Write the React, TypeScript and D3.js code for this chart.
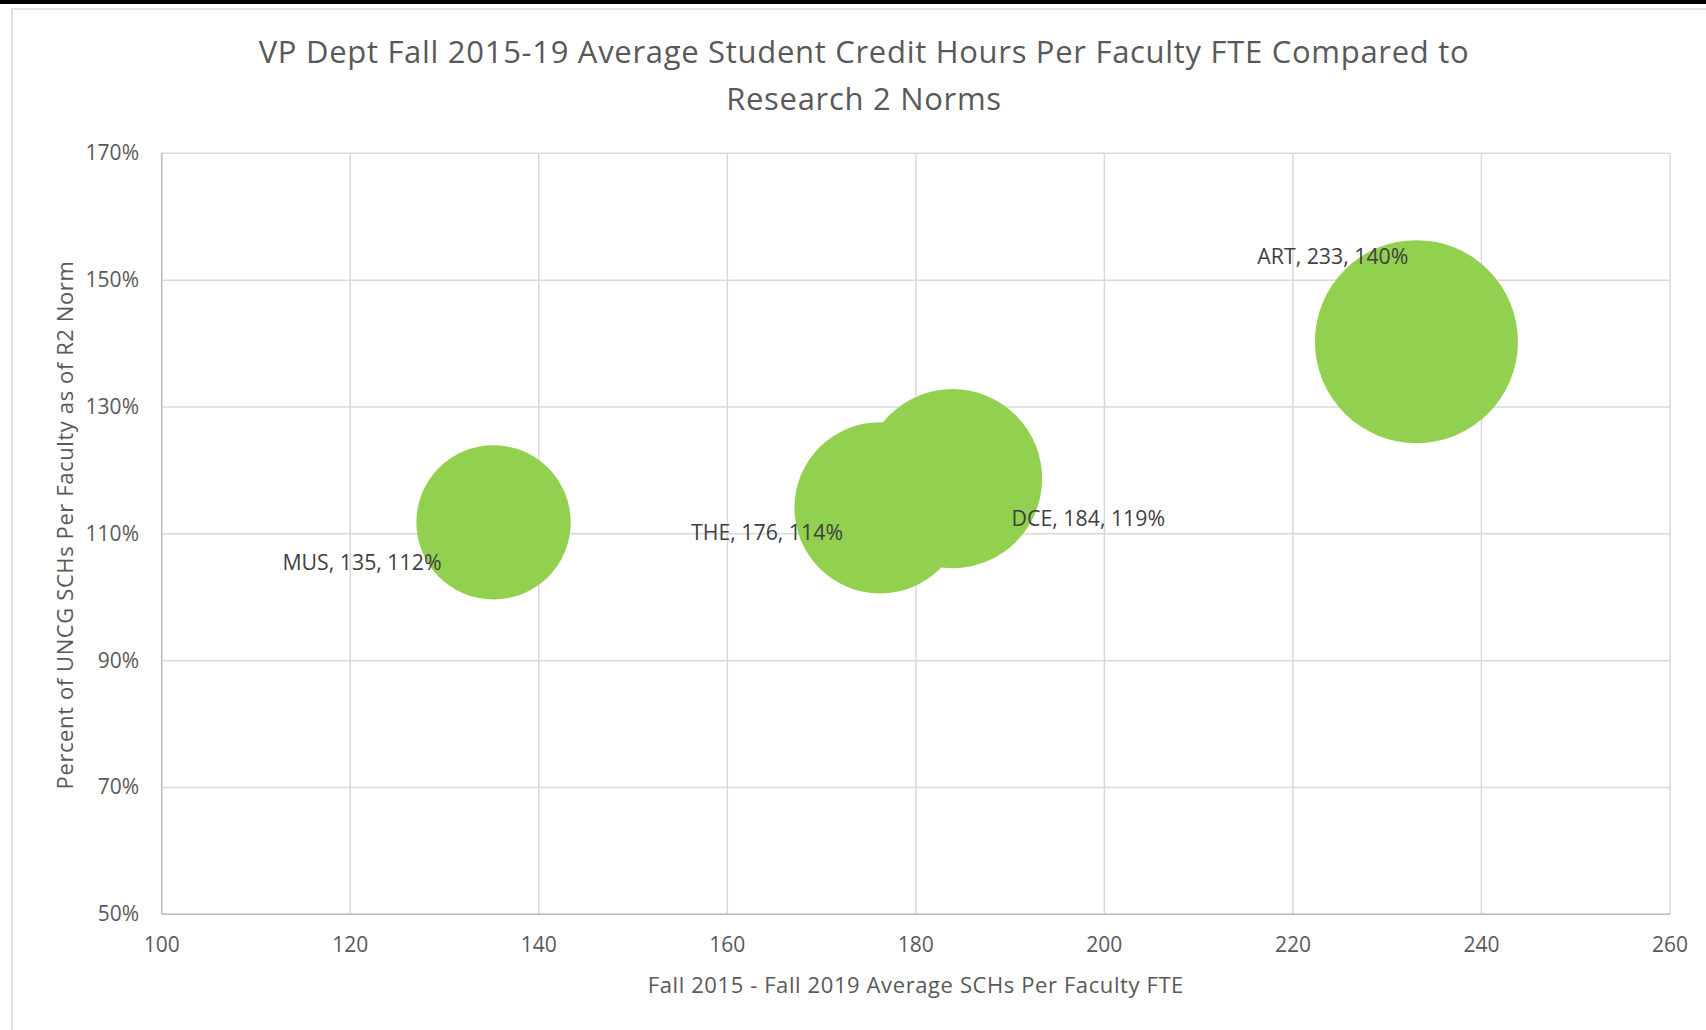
import React from "react";
import * as d3 from "d3";

// departments and their values
const depts = ["MUS", "THE", "DCE", "ART"];
const schPerFte = [135.2, 176.2, 183.9, 233.1];
const pctOfNorm = [1.118, 1.141, 1.187, 1.403];
const facultyFte = [26, 32, 35, 45]; // bubble size

const xTicks = [100, 120, 140, 160, 180, 200, 220, 240, 260];
const yTicks = [0.5, 0.7, 0.9, 1.1, 1.3, 1.5, 1.7];

// manual label placement (px from bubble centre), like the Excel original
const labelNudge = [
  { dx: -52, dy: 41, anchor: "end" },
  { dx: -37, dy: 25, anchor: "end" },
  { dx: 59, dy: 40, anchor: "start" },
  { dx: -8, dy: -85, anchor: "end" },
];

const W = 1706;
const H = 1030;
const left = 161.7;
const right = 1670;
const top = 153.3;
const bottom = 914.3;

const font = "'Open Sans', 'Noto Sans', sans-serif";
const grey = "#595959";
const grid = "#d9d9d9";
const green = "#92d050";

export default function App() {
  const x = d3.scaleLinear().domain([100, 260]).range([left, right]);
  const y = d3.scaleLinear().domain([0.5, 1.7]).range([bottom, top]);
  const r = d3.scaleSqrt().domain([0, d3.max(facultyFte)]).range([0, 101.5]);
  const pct = d3.format(".0%");
  const titleX = 864;

  return (
    <svg
      width={W}
      height={H}
      style={{ position: "absolute", left: 0, top: 0, background: "#fff" }}
      fontFamily={font}
    >
      <rect x={0} y={0} width={W} height={4} fill="#000" />
      <path d={`M12,${H} V9 H${W}`} fill="none" stroke={grid} strokeWidth={1.5} />

      <text x={titleX} y={63} textAnchor="middle" fontSize={31} letterSpacing={0.7} fill={grey}>
        VP Dept Fall 2015-19 Average Student Credit Hours Per Faculty FTE Compared to
      </text>
      <text x={titleX} y={110} textAnchor="middle" fontSize={31} letterSpacing={0.7} fill={grey}>
        Research 2 Norms
      </text>

      {/* gridlines */}
      {xTicks.map((t) => (
        <line key={"gx" + t} x1={x(t)} x2={x(t)} y1={top} y2={bottom} stroke={grid} strokeWidth={1.5} />
      ))}
      {yTicks.map((t) => (
        <line key={"gy" + t} x1={left} x2={right} y1={y(t)} y2={y(t)} stroke={grid} strokeWidth={1.5} />
      ))}
      <line x1={left} x2={right} y1={bottom} y2={bottom} stroke="#bfbfbf" strokeWidth={1.5} />
      <line x1={left} x2={left} y1={top} y2={bottom} stroke="#bfbfbf" strokeWidth={1.5} />

      {/* tick labels */}
      {xTicks.map((t) => (
        <text key={"tx" + t} x={x(t)} y={952} textAnchor="middle" fontSize={21} fill={grey}>
          {t}
        </text>
      ))}
      {yTicks.map((t) => (
        <text key={"ty" + t} x={139} y={y(t) + 7} textAnchor="end" fontSize={21} fill={grey}>
          {pct(t)}
        </text>
      ))}

      {/* bubbles */}
      {depts.map((d, i) => (
        <circle key={d} cx={x(schPerFte[i])} cy={y(pctOfNorm[i])} r={r(facultyFte[i])} fill={green} />
      ))}

      {/* data labels */}
      {depts.map((d, i) => (
        <text
          key={"l" + d}
          x={x(schPerFte[i]) + labelNudge[i].dx}
          y={y(pctOfNorm[i]) + labelNudge[i].dy + 7}
          textAnchor={labelNudge[i].anchor}
          fontSize={21.3}
          fill="#404040"
        >
          {`${d}, ${Math.round(schPerFte[i])}, ${pct(pctOfNorm[i])}`}
        </text>
      ))}

      {/* axis titles */}
      <text x={(left + right) / 2} y={993} textAnchor="middle" fontSize={22} letterSpacing={0.6} fill={grey}>
        Fall 2015 - Fall 2019 Average SCHs Per Faculty FTE
      </text>
      <text
        transform={`translate(73,525) rotate(-90)`}
        textAnchor="middle"
        fontSize={22}
        letterSpacing={0.6}
        fill={grey}
      >
        Percent of UNCG SCHs Per Faculty as of R2 Norm
      </text>
    </svg>
  );
}
